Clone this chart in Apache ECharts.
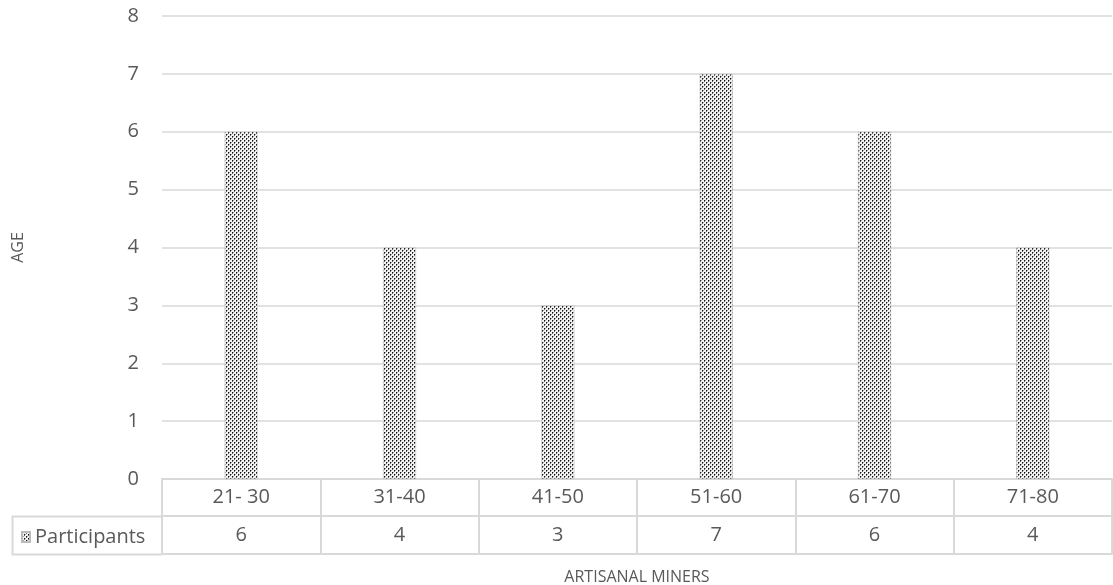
<!DOCTYPE html>
<html><head><meta charset="utf-8">
<script src="https://cdn.jsdelivr.net/npm/echarts@6/dist/echarts.min.js"></script>
<style>html,body{margin:0;padding:0;background:#fff}#c{width:1113px;height:585px}</style>
</head><body><div id="c"></div>
<script>
const categories = ['21- 30', '31-40', '41-50', '51-60', '61-70', '71-80'];
const participants = [6, 4, 3, 7, 6, 4];
const yTicks = [0, 1, 2, 3, 4, 5, 6, 7, 8];
const seriesName = 'Participants';

function makePattern() {
  const c = document.createElement('canvas');
  c.width = 4; c.height = 4;
  const g = c.getContext('2d');
  g.fillStyle = '#f2f2f2'; g.fillRect(0, 0, 4, 4);
  g.fillStyle = '#111';
  g.fillRect(0, 0, 1, 1); g.fillRect(2, 2, 1, 1);
  g.fillStyle = '#666';
  g.fillRect(0, 1, 1, 1); g.fillRect(2, 3, 1, 1);
  g.fillStyle = '#aaa';
  g.fillRect(1, 0, 1, 1); g.fillRect(3, 2, 1, 1);
  return c;
}
const pat = { image: makePattern(), repeat: 'repeat' };
const txt = '#595959', line = '#d9d9d9', font = 'Open Sans';

const chart = echarts.init(document.getElementById('c'));
chart.setOption({
  animation: false,
  textStyle: { fontFamily: font },
  grid: { left: 162, right: 1, top: 16, bottom: 106, outerBoundsMode: 'none', containLabel: false },
  legend: {
    left: 16, top: 522, itemWidth: 8, itemHeight: 10, itemGap: 4,
    textStyle: { color: txt, fontSize: 20, fontFamily: font },
    data: [{ name: seriesName, icon: 'rect' }]
  },
  graphic: [
    { type: 'polyline', shape: { points: [[162, 516.5], [12.5, 516.5], [12.5, 554.5], [162, 554.5]] },
      style: { stroke: line, lineWidth: 2, fill: null }, silent: true }
  ],
  xAxis: [
    { type: 'category', data: categories, position: 'bottom', offset: 0,
      axisLine: { lineStyle: { color: line, width: 2 } },
      axisTick: { show: true, length: 37, interval: 0, lineStyle: { color: line, width: 2 } },
      axisLabel: { color: txt, fontSize: 20, margin: 8, fontFamily: font } },
    { type: 'category', data: categories, position: 'bottom', offset: 37, gridIndex: 0,
      axisLine: { lineStyle: { color: line, width: 2 } },
      axisTick: { show: true, length: 38, interval: 0, lineStyle: { color: line, width: 2 } },
      axisLabel: { color: txt, fontSize: 20, margin: 9, fontFamily: font,
        formatter: (v, i) => String(participants[i]) } },
    { type: 'category', data: categories, position: 'bottom', offset: 75, gridIndex: 0,
      axisLine: { lineStyle: { color: line, width: 2 } },
      axisTick: { show: false }, axisLabel: { show: false },
      name: 'ARTISANAL MINERS', nameLocation: 'middle', nameGap: 15,
      nameTextStyle: { color: txt, fontSize: 16, fontFamily: font } }
  ],
  yAxis: {
    type: 'value', min: yTicks[0], max: yTicks[yTicks.length - 1], interval: 1,
    axisLine: { show: false }, axisTick: { show: false },
    splitLine: { lineStyle: { color: line, width: 1.5 } },
    axisLabel: { color: txt, fontSize: 20, margin: 23, fontFamily: font },
    name: 'AGE', nameLocation: 'middle', nameGap: 136, nameRotate: 90,
    nameTextStyle: { color: txt, fontSize: 16, fontFamily: font }
  },
  series: [{
    name: seriesName, type: 'bar', xAxisIndex: 0, data: participants, barWidth: 33,
    itemStyle: { color: pat, borderColor: '#bbb', borderWidth: 0.5 }
  }]
});
</script></body></html>
